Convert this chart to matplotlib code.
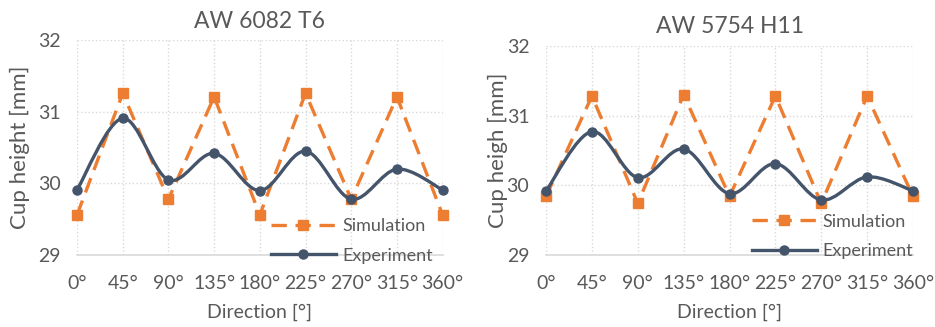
import matplotlib.pyplot as plt
from matplotlib.path import Path
from matplotlib.patches import PathPatch
from matplotlib.lines import Line2D

# Data
directions = [0, 45, 90, 135, 180, 225, 270, 315, 360]
tick_labels = ['0°', '45°', '90°', '135°', '180°', '225°', '270°', '315°', '360°']

sim_6082 = [29.56, 31.26, 29.78, 31.21, 29.56, 31.26, 29.78, 31.21, 29.56]
exp_6082 = [29.91, 30.91, 30.05, 30.42, 29.90, 30.45, 29.78, 30.20, 29.91]

sim_5754 = [29.84, 31.28, 29.74, 31.30, 29.84, 31.28, 29.74, 31.28, 29.84]
exp_5754 = [29.92, 30.77, 30.11, 30.52, 29.88, 30.31, 29.79, 30.12, 29.92]

ORANGE = '#ED7D31'
NAVY = '#44546A'
GREY_TXT = '#595959'
GRID = '#D9D9D9'

plt.rcParams['font.family'] = ['Lato', 'DejaVu Sans']


# Smoothed line like Excel: cubic Bezier segments through the data points
def smooth_path(xs, ys):
    pts = list(zip(xs, ys))
    n = len(pts)
    verts = [pts[0]]
    codes = [Path.MOVETO]
    for i in range(n - 1):
        p0 = pts[i - 1] if i > 0 else pts[i]
        p1 = pts[i]
        p2 = pts[i + 1]
        p3 = pts[i + 2] if i + 2 < n else pts[i + 1]
        c1 = (p1[0] + (p2[0] - p0[0]) / 6, p1[1] + (p2[1] - p0[1]) / 6)
        c2 = (p2[0] - (p3[0] - p1[0]) / 6, p2[1] - (p3[1] - p1[1]) / 6)
        verts += [c1, c2, p2]
        codes += [Path.CURVE4, Path.CURVE4, Path.CURVE4]
    return Path(verts, codes)


def draw_panel(ax, title, ylabel, sim, exp, legend_anchor):
    ax.plot(directions, sim, color=ORANGE, lw=2.4, linestyle=(0, (4.6, 2.6)),
            marker='s', markersize=7, clip_on=False, zorder=3)
    ax.add_patch(PathPatch(smooth_path(directions, exp), facecolor='none',
                           edgecolor=NAVY, lw=2.4, zorder=4, clip_on=False))
    ax.plot(directions, exp, linestyle='none', marker='o', markersize=6.5,
            color=NAVY, clip_on=False, zorder=5)

    ax.set_xlim(0, 360)
    ax.set_ylim(29, 32)
    ax.set_xticks(directions)
    ax.set_xticklabels(tick_labels)
    ax.set_yticks([29, 30, 31, 32])
    ax.tick_params(axis='both', length=0, labelsize=14, colors=GREY_TXT)
    ax.tick_params(axis='x', pad=14)
    ax.tick_params(axis='y', pad=12)
    ax.grid(True, color=GRID, linestyle=':', linewidth=1)
    for s in ['top', 'right', 'left']:
        ax.spines[s].set_visible(False)
    ax.spines['bottom'].set_color(GRID)
    ax.spines['bottom'].set_linewidth(1.2)

    ax.set_title(title, fontsize=16.5, color=GREY_TXT, pad=9)
    ax.set_xlabel('Direction [°]', fontsize=14, color=GREY_TXT, labelpad=9)
    ax.set_ylabel(ylabel, fontsize=16, color=GREY_TXT)

    handles = [
        Line2D([], [], color=ORANGE, lw=2.4, linestyle=(0, (4.6, 2.6)),
               marker='s', markersize=7),
        Line2D([], [], color=NAVY, lw=2.4, marker='o', markersize=6.5),
    ]
    leg = ax.legend(handles, ['Simulation', 'Experiment'], frameon=False,
                    loc='lower left', bbox_to_anchor=legend_anchor,
                    fontsize=13, handlelength=3.6, handletextpad=0.35,
                    labelspacing=0.75, borderpad=0, borderaxespad=0)
    for t in leg.get_texts():
        t.set_color(GREY_TXT)
    leg.set_zorder(6)


fig = plt.figure(figsize=(9.35, 3.27), dpi=100)
ax1 = fig.add_axes([0.0824, 0.220, 0.391, 0.657])
ax2 = fig.add_axes([0.584, 0.220, 0.3925, 0.640])

draw_panel(ax1, 'AW 6082 T6', 'Cup height [mm]', sim_6082, exp_6082, (0.53, -0.04))
draw_panel(ax2, 'AW 5754 H11', 'Cup heigh [mm]', sim_5754, exp_5754, (0.56, -0.02))
ax1.yaxis.set_label_coords(-0.13, 0.5)
ax2.yaxis.set_label_coords(-0.105, 0.5)

fig.savefig('out.png', dpi=100)
